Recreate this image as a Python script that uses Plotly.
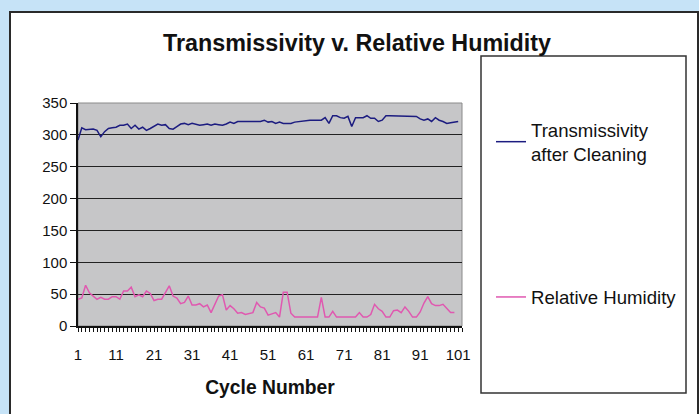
import plotly.graph_objects as go

cycles = list(range(1, 102))

transmissivity = [
    292, 311, 308, 309, 309, 307, 297, 305, 310, 311,
    312, 315, 315, 317, 310, 315, 309, 312, 307, 310,
    313, 317, 315, 316, 310, 309, 313, 317, 318, 316,
    318, 317, 315, 316, 317, 315, 317, 316, 315, 317,
    320, 318, 321, 321, 321, 321, 321, 321, 321, 323,
    320, 321, 318, 320, 318, 318, 318, 320, 321, 322,
    323, 323, 323, 323, 323, 327, 318, 330, 330, 327,
    326, 329, 313, 327, 327, 327, 330, 326, 326, 321,
    323, 330, 330, 330, 330, 330, 330, 330, 330, 329,
    325, 323, 325, 321, 327, 323, 321, 318, 319, 320,
    321,
]

humidity = [
    42, 44, 64, 52, 47, 42, 45, 42, 42, 46,
    46, 42, 55, 55, 61, 46, 49, 46, 55, 51,
    40, 42, 42, 52, 63, 47, 44, 35, 37, 47,
    33, 33, 35, 30, 33, 21, 33, 47, 49, 25,
    32, 27, 20, 21, 18, 20, 21, 37, 30, 28,
    17, 19, 21, 14, 53, 53, 20, 14, 14, 14,
    14, 14, 14, 14, 45, 14, 14, 23, 14, 14,
    14, 14, 14, 14, 21, 14, 14, 18, 34, 27,
    23, 14, 14, 24, 25, 21, 30, 23, 14, 14,
    22, 36, 46, 35, 32, 32, 34, 27, 21, 21,
    None,
]

x_label_vals = [1, 11, 21, 31, 41, 51, 61, 71, 81, 91, 101]
y_tick_vals = [0, 50, 100, 150, 200, 250, 300, 350]

series_names = ["Transmissivity<br>after Cleaning", "Relative Humidity"]
series_colors = ["#1c1c80", "#e058b0"]

FONT = "Liberation Sans, Arial, sans-serif"

fig = go.Figure()
fig.add_trace(go.Scatter(
    x=cycles, y=transmissivity, mode="lines", name=series_names[0],
    line=dict(color=series_colors[0], width=1.5), legendgroup="a",
))
fig.add_trace(go.Scatter(
    x=cycles, y=humidity, mode="lines", name=series_names[1],
    line=dict(color=series_colors[1], width=1.5), legendgroup="b",
))

# plot area in pixels: x 78..462, y 103..326
L, R, T, B = 78, 462, 103, 326
W, H = 699, 414
def px(xp):
    return (xp - L) / (R - L)
def py(yp):
    return (B - yp) / (B - T)

shapes = [
    # white chart frame
    dict(type="rect", xref="paper", yref="paper", layer="below",
         x0=px(10), x1=px(698), y0=py(430), y1=py(12),
         fillcolor="white", line=dict(color="#2a2a2a", width=2)),
    # gray plot area
    dict(type="rect", xref="paper", yref="paper", layer="below",
         x0=0, x1=1, y0=0, y1=1,
         fillcolor="#c6c6c8", line=dict(color="#8a8a8a", width=1)),
    # legend box
    dict(type="rect", xref="paper", yref="paper", layer="below",
         x0=px(481), x1=px(686), y0=py(393), y1=py(56),
         fillcolor="white", line=dict(color="#333333", width=1.5)),
]

fig.update_layout(
    width=W, height=H,
    margin=dict(l=L, r=W - R, t=T, b=H - B, pad=0, autoexpand=False),
    paper_bgcolor="#c6e3f7",
    plot_bgcolor="rgba(0,0,0,0)",
    font=dict(family=FONT, color="#111111", size=15),
    title=dict(
        text="Transmissivity v. Relative Humidity",
        font=dict(family=FONT, size=23.3, color="#111111", weight="bold"),
        x=px(357), xref="paper", xanchor="center",
        y=1 - 43 / H, yref="container", yanchor="middle",
    ),
    shapes=shapes,
    showlegend=True,
    legend=dict(
        x=px(491), xanchor="left", y=py(111), yanchor="top",
        bgcolor="rgba(0,0,0,0)", borderwidth=0,
        font=dict(family=FONT, size=18.6, color="#111111"),
        tracegroupgap=116, traceorder="grouped",
    ),
    xaxis=dict(
        range=[1, 102], tickmode="array", tickvals=x_label_vals,
        ticktext=[str(v) for v in x_label_vals],
        ticks="outside", ticklen=4, tickcolor="#111111", tickwidth=1,
        ticklabelstandoff=10, automargin=False,
        minor=dict(tick0=1, dtick=1, ticks="outside", ticklen=4,
                   tickcolor="#111111", tickwidth=1, showgrid=False),
        showgrid=False, zeroline=False,
        showline=True, linecolor="#111111", linewidth=1.5,
        tickfont=dict(family=FONT, size=15, color="#111111"),
        title=dict(text="Cycle Number", standoff=19,
                   font=dict(family=FONT, size=19.3, color="#111111", weight="bold")),
    ),
    yaxis=dict(
        range=[0, 350], tickmode="array", tickvals=y_tick_vals,
        ticks="outside", ticklen=6, tickcolor="#111111", tickwidth=1,
        showgrid=True, gridcolor="#222222", gridwidth=1,
        zeroline=False, automargin=False,
        showline=True, linecolor="#111111", linewidth=1.5,
        tickfont=dict(family=FONT, size=15, color="#111111"),
    ),
)

fig.write_html(
    "out.html",
    config={"displayModeBar": False},
    post_script="document.body.style.margin='0px';document.body.style.padding='0px';",
)
